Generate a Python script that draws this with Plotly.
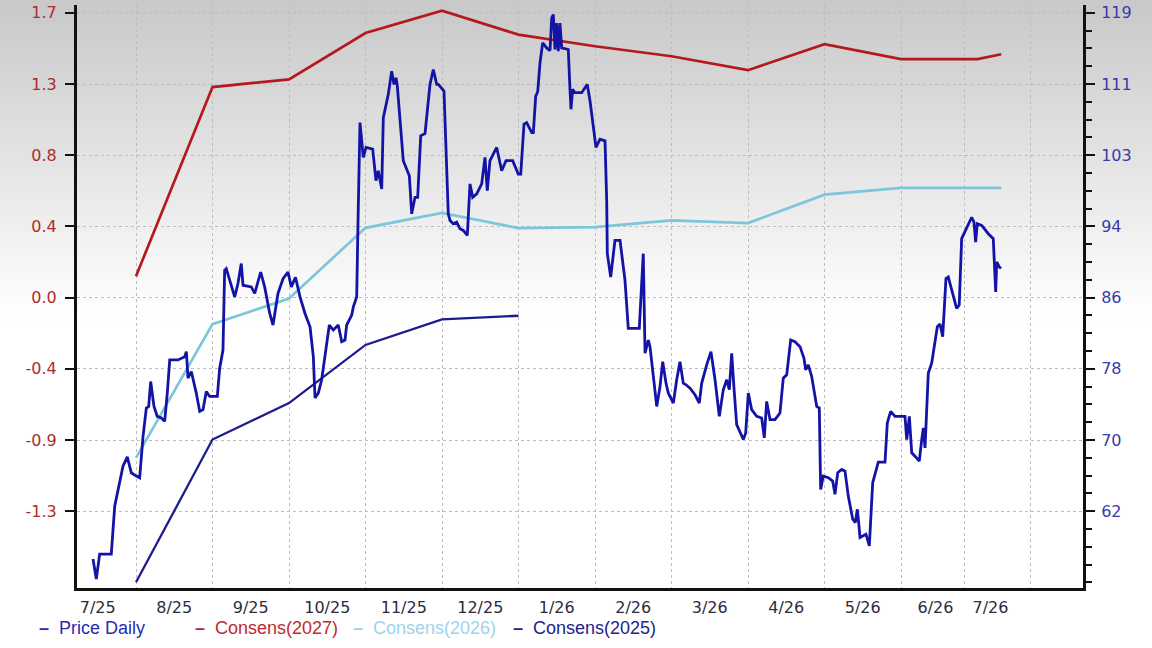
import plotly.graph_objects as go

# ---------------- data ----------------
# time in months since 2025-07-01 (chart uses evenly spaced months)
price_t = [0.438,0.481,0.525,0.677,0.722,0.787,0.830,0.886,0.939,1.004,
           1.048,1.092,1.135,1.166,1.192,1.235,1.278,1.331,1.375,1.409,
           1.441,1.549,1.637,1.658,1.680,1.723,1.788,1.833,1.876,1.919,
           1.963,2.063,2.094,2.137,2.159,2.180,2.290,2.333,2.376,2.399,
           2.507,2.552,2.630,2.682,2.748,2.791,2.856,2.922,2.987,3.030,
           3.085,3.144,3.209,3.275,3.318,3.340,3.383,3.427,3.493,3.527,
           3.579,3.644,3.689,3.732,3.754,3.820,3.841,3.885,3.905,3.928,
           3.971,4.007,4.094,4.137,4.167,4.212,4.233,4.298,4.342,4.373,
           4.399,4.416,4.494,4.573,4.604,4.647,4.682,4.722,4.778,4.843,
           4.886,4.931,4.952,5.026,5.082,5.105,5.148,5.192,5.235,5.278,
           5.331,5.366,5.401,5.454,5.519,5.562,5.592,5.627,5.715,5.780,
           5.837,5.924,5.997,6.029,6.072,6.107,6.173,6.194,6.225,6.251,
           6.281,6.316,6.368,6.412,6.434,6.455,6.477,6.499,6.520,6.542,
           6.564,6.651,6.673,6.686,6.708,6.739,6.826,6.899,6.935,7.013,
           7.065,7.131,7.153,7.161,7.205,7.261,7.327,7.349,7.392,7.435,
           7.579,7.631,7.654,7.697,7.719,7.807,7.850,7.885,7.928,7.958,
           8.024,8.068,8.111,8.154,8.190,8.242,8.307,8.363,8.395,8.460,
           8.516,8.569,8.625,8.677,8.722,8.756,8.787,8.817,8.852,8.939,
           8.970,9.004,9.048,9.114,9.179,9.213,9.244,9.288,9.353,9.418,
           9.461,9.506,9.558,9.614,9.680,9.732,9.754,9.788,9.833,9.898,
           9.932,9.950,9.984,10.050,10.107,10.137,10.173,10.225,10.268,10.311,
           10.369,10.403,10.429,10.447,10.464,10.542,10.586,10.630,10.673,10.703,
           10.791,10.821,10.865,10.922,11.052,11.075,11.109,11.140,11.183,11.239,
           11.271,11.292,11.314,11.357,11.401,11.475,11.510,11.545,11.588,11.618,
           11.727,11.761,11.793,11.858,11.924,11.954,11.976,11.997,12.055,12.141,
           12.206,12.238,12.251,12.285,12.307]
price_v = [56.42,54.15,56.99,56.99,62.48,65.14,67.02,68.09,66.27,65.89,
           65.70,70.43,73.66,73.84,76.68,73.84,72.70,72.52,72.14,75.36,
           79.15,79.15,79.52,80.09,77.07,77.82,75.36,73.27,73.47,75.55,
           74.98,74.98,78.20,80.28,89.38,89.57,86.34,87.86,90.14,87.67,
           87.48,86.73,89.18,87.48,84.45,83.13,86.73,88.43,89.18,87.48,
           88.58,86.34,84.45,82.93,79.52,74.80,75.36,76.88,81.05,83.13,
           82.56,83.13,81.23,81.42,83.13,84.26,85.20,86.34,96.19,106.23,
           102.25,103.39,103.20,99.60,100.74,98.66,106.80,109.45,112.10,110.59,
           111.34,110.40,101.88,100.17,95.82,97.70,97.70,104.72,104.98,110.59,
           112.29,110.59,110.59,109.83,95.82,95.06,94.68,94.86,94.11,93.92,
           93.35,99.23,97.70,98.09,99.23,102.25,98.47,101.88,103.39,100.74,
           101.88,101.88,100.36,100.36,106.05,106.23,105.09,105.09,109.26,109.75,
           113.05,115.32,114.75,114.45,118.16,118.55,114.57,117.59,114.37,117.59,
           114.75,114.57,110.02,107.75,110.02,109.64,109.64,110.59,108.69,103.39,
           104.34,104.15,97.33,91.27,88.61,92.78,92.78,91.27,88.24,82.75,
           82.75,91.27,79.91,81.42,80.66,73.84,76.11,78.95,76.50,75.36,
           74.23,76.88,78.95,76.50,76.31,75.93,75.17,74.23,76.50,78.58,
           80.09,76.88,72.70,75.74,76.88,75.74,79.91,75.93,71.76,70.06,
           70.82,75.36,73.47,72.70,72.52,70.25,74.41,72.33,72.33,73.09,
           77.07,77.44,81.42,81.23,80.66,79.34,78.01,78.58,77.25,73.84,
           73.66,64.37,65.89,65.70,65.32,63.81,66.27,66.65,66.45,63.61,
           60.97,60.59,62.10,60.59,58.89,59.26,57.93,65.14,66.65,67.48,
           67.48,71.95,73.27,72.70,72.70,70.06,72.70,68.55,68.16,67.59,
           70.06,71.39,69.11,77.64,78.77,82.93,83.24,81.80,88.43,88.61,
           85.02,85.40,92.98,94.30,95.43,94.86,92.59,94.68,94.49,93.55,
           92.98,86.91,90.32,89.75,89.57]

cons_t = [1, 2, 3, 4, 5, 6, 7, 8, 9, 10, 11, 12, 12.31]
cons_2027 = [0.128, 1.257, 1.303, 1.580, 1.713, 1.570, 1.501, 1.441, 1.358, 1.513, 1.424, 1.424, 1.453]
cons_2026 = [-0.956, -0.158, -0.005, 0.417, 0.506, 0.415, 0.421, 0.461, 0.445, 0.615, 0.655, 0.655, 0.655]
cons_2025_t = [1, 2, 3, 4, 5, 6]
cons_2025 = [-1.699, -0.847, -0.629, -0.282, -0.130, -0.108]

month_labels = ["7/25", "8/25", "9/25", "10/25", "11/25", "12/25", "1/26",
                "2/26", "3/26", "4/26", "5/26", "6/26", "7/26"]
month_label_pos = [0.5, 1.5, 2.5, 3.5, 4.5, 5.5, 6.5, 7.5, 8.5, 9.5, 10.5, 11.45, 12.17]
grid_pos = [1, 2, 3, 4, 5, 6, 7, 8, 9, 10, 11, 11.824, 12.699]

left_tickvals = [-1.275, -0.85, -0.425, 0.0, 0.425, 0.85, 1.275, 1.7]
left_ticktext = ["-1.3", "-0.9", "-0.4", "0.0", "0.4", "0.8", "1.3", "1.7"]
right_tickvals = [61.875, 70.0, 78.125, 86.25, 94.375, 102.5, 110.625, 118.75]
right_ticktext = ["62", "70", "78", "86", "94", "103", "111", "119"]

# ---------------- styling ----------------
W, H = 1152, 648
ML, MR, MT, MB = 77, 69, 5, 60
C_PRICE = "#1313a6"
C_2027 = "#b3191e"
C_2026 = "#7cc6dc"
C_2025 = "#1c1c8c"

L_RANGE = [-1.733, 1.747]
scale = 8.125 / 0.425
R_RANGE = [86.25 + L_RANGE[0] * scale, 86.25 + L_RANGE[1] * scale]

fig = go.Figure()
fig.add_trace(go.Scatter(x=cons_2025_t, y=cons_2025, mode="lines", name="Consens(2025)",
                         line=dict(color=C_2025, width=2.3), yaxis="y"))
fig.add_trace(go.Scatter(x=cons_t, y=cons_2026, mode="lines", name="Consens(2026)",
                         line=dict(color=C_2026, width=2.7), yaxis="y"))
fig.add_trace(go.Scatter(x=cons_t, y=cons_2027, mode="lines", name="Consens(2027)",
                         line=dict(color=C_2027, width=2.7), yaxis="y"))
fig.add_trace(go.Scatter(x=price_t, y=price_v, mode="lines", name="Price Daily",
                         line=dict(color=C_PRICE, width=2.8), yaxis="y2"))

# background gradient (decorative bands)
shapes = []
n = 40
top_px, bot_px = 0, 320
plot_h = H - MT - MB
for i in range(n):
    y0p = top_px + (bot_px - top_px) * i / n
    y1p = top_px + (bot_px - top_px) * (i + 1) / n
    g = int(round(200 + (255 - 200) * (i + 0.5) / n))
    col = f"rgb({g},{g},{g})"
    shapes.append(dict(type="rect", xref="paper", yref="paper",
                       x0=-0.08, x1=1.07,
                       y0=(H - MB - y1p) / plot_h - 0.001, y1=(H - MB - y0p) / plot_h + 0.001,
                       fillcolor=col, line=dict(width=0), layer="below"))

fig.update_layout(
    width=W, height=H,
    margin=dict(l=ML, r=MR, t=MT, b=MB),
    paper_bgcolor="white",
    plot_bgcolor="rgba(0,0,0,0)",
    showlegend=False,
    shapes=shapes,
    xaxis=dict(
        range=[(ML - 59.5) / 76.5, (W - MR - 59.5) / 76.5],
        tickmode="array", tickvals=month_label_pos, ticktext=month_labels,
        showgrid=False, zeroline=False,
        ticks="", ticklabelstandoff=3,
        tickfont=dict(family="DejaVu Sans", size=16, color="#2c2c3c"),
        showline=True, linecolor="#111111", linewidth=3,
        minor=dict(tickmode="array", tickvals=grid_pos, showgrid=True,
                   gridcolor="#bdbdbd", griddash="3px,3px", gridwidth=1, ticks=""),
        automargin=False,
    ),
    yaxis=dict(
        range=L_RANGE,
        tickmode="array", tickvals=left_tickvals, ticktext=left_ticktext,
        showgrid=True, gridcolor="#bdbdbd", griddash="3px,3px", gridwidth=1,
        zeroline=False,
        ticks="outside", ticklen=9, tickwidth=2, tickcolor="#111111",
        ticklabelstandoff=5,
        tickfont=dict(family="DejaVu Sans", size=16, color="#b02a2a"),
        showline=True, linecolor="#111111", linewidth=3,
        automargin=False,
    ),
    yaxis2=dict(
        range=R_RANGE, overlaying="y", side="right",
        tickmode="array", tickvals=right_tickvals, ticktext=right_ticktext,
        showgrid=False, zeroline=False,
        ticks="outside", ticklen=9, tickwidth=2, tickcolor="#111111",
        ticklabelstandoff=3,
        tickfont=dict(family="DejaVu Sans", size=16, color="#3a3aac"),
        showline=True, linecolor="#111111", linewidth=3,
        minor=dict(tickmode="linear", tick0=61.875, dtick=8.125 / 4,
                   ticks="outside", ticklen=6, tickwidth=2, tickcolor="#111111",
                   showgrid=False),
        automargin=False,
    ),
)

# legend drawn as coloured text entries below the axis
legend_items = [
    ("Price Daily", "#2a2ab4", 37),
    ("Consens(2027)", "#c02a2a", 193),
    ("Consens(2026)", "#9fd3ea", 351),
    ("Consens(2025)", "#23238a", 511),
]
plot_w = W - ML - MR
for name, col, px in legend_items:
    fig.add_annotation(
        text="<b>–</b>&nbsp;&nbsp;" + name, x=(px - ML) / plot_w, y=(H - MB - 628) / plot_h,
        xref="paper", yref="paper", xanchor="left", yanchor="middle",
        showarrow=False, font=dict(family="Liberation Sans", size=18, color=col))

fig.write_html("out.html", config={"displayModeBar": False},
               post_script="document.body.style.margin='0px';")
